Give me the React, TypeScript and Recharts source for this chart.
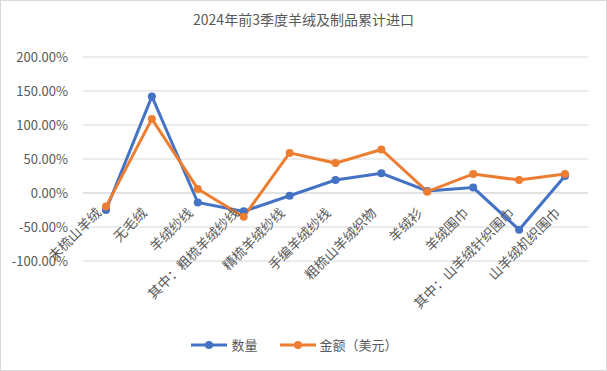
import React from 'react';
import { LineChart, Line, XAxis, YAxis, CartesianGrid, Legend, ReferenceLine } from 'recharts';

const categories = [
  '未梳山羊绒', '无毛绒', '羊绒纱线', '其中：粗梳羊绒纱线', '精梳羊绒纱线', '手编羊绒纱线',
  '粗梳山羊绒织物', '羊绒衫', '羊绒围巾', '其中：山羊绒针织围巾', '山羊绒机织围巾',
];
const quantity = [-25, 142, -14, -27, -4, 19, 29, 3, 8, -54, 25];
const amount = [-20, 109, 6, -35, 59, 44, 64, 2, 28, 19, 28];
const yTicks = [-100, -50, 0, 50, 100, 150, 200];

const data = categories.map((name, i) => ({ name, q: quantity[i], a: amount[i] }));

const FONT = '"Noto Sans CJK SC", "Noto Sans", sans-serif';
const TEXT = '#595959';

// category labels sit next to the 0% line, like Excel does
const CatTick = (props: any) => {
  const { x, y, payload } = props;
  return (
    <g transform={`translate(${x - 4},${y - 55}) rotate(-45)`}>
      <text x={0} y={0} textAnchor="end" fill={TEXT} fontSize={13.5} fontFamily={FONT}>
        {payload.value}
      </text>
    </g>
  );
};

const LegendContent = (props: any) => (
  <div style={{ display: 'flex', justifyContent: 'center', gap: 22, fontFamily: FONT, fontSize: 13, color: TEXT }}>
    {props.payload.map((p: any) => (
      <div key={p.value} style={{ display: 'flex', alignItems: 'center', gap: 4 }}>
        <svg width={36} height={10}>
          <line x1={0} y1={5} x2={36} y2={5} stroke={p.color} strokeWidth={3} />
          <circle cx={18} cy={5} r={4} fill={p.color} />
        </svg>
        <span>{p.value}</span>
      </div>
    ))}
  </div>
);

const fmt = (v: number) => `${v.toFixed(2)}%`;

export default function App() {
  return (
    <div style={{ position: 'absolute', left: 0, top: 0, width: 605, height: 369, border: '1px solid #d9d9d9', background: '#fff' }}>
      <div style={{ position: 'absolute', top: 8, width: '100%', textAlign: 'center', fontFamily: FONT, fontSize: 14, color: TEXT }}>
        2024年前3季度羊绒及制品累计进口
      </div>
      <LineChart width={605} height={369} data={data} margin={{ top: 56, right: 18, left: 0, bottom: 0 }}>
        <CartesianGrid vertical={false} stroke="#d9d9d9" />
        <XAxis dataKey="name" height={79} axisLine={false} tickLine={false} interval={0} padding={{ left: 23, right: 23 }} tick={<CatTick />} />
        <YAxis
          width={82}
          domain={[-100, 200]}
          ticks={yTicks}
          tickFormatter={fmt}
          axisLine={false}
          tickLine={false}
          tickSize={0}
          tickMargin={15}
          tick={{ fill: TEXT, fontSize: 13, fontFamily: FONT }}
        />
        <ReferenceLine y={0} stroke="#d9d9d9" />
        <Legend height={30} wrapperStyle={{ top: 334 }} content={<LegendContent />} />
        <Line name="数量" dataKey="q" stroke="#4472C4" strokeWidth={3} dot={{ r: 4, fill: '#4472C4', strokeWidth: 0 }} isAnimationActive={false} />
        <Line name="金额（美元）" dataKey="a" stroke="#ED7D31" strokeWidth={3} dot={{ r: 4, fill: '#ED7D31', strokeWidth: 0 }} isAnimationActive={false} />
      </LineChart>
    </div>
  );
}
